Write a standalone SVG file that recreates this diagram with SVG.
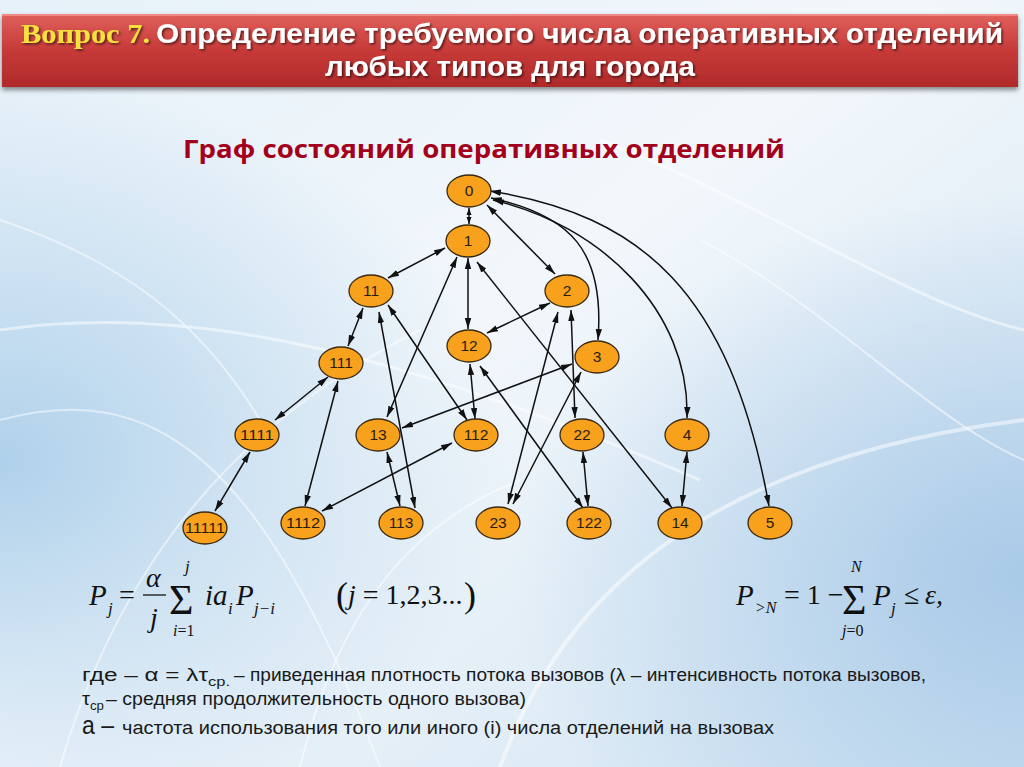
<svg xmlns="http://www.w3.org/2000/svg" width="1024" height="767" viewBox="0 0 1024 767">
<defs>
<linearGradient id="bg" x1="0" y1="0" x2="1" y2="1">
<stop offset="0" stop-color="#e6f1f9"/>
<stop offset="0.45" stop-color="#f2f7fb"/>
<stop offset="1" stop-color="#cfe3f2"/>
</linearGradient>
<radialGradient id="lb" cx="0" cy="0.6" r="0.5">
<stop offset="0" stop-color="#a9cde9" stop-opacity="0.9"/>
<stop offset="1" stop-color="#a9cde9" stop-opacity="0"/>
</radialGradient>
<radialGradient id="rb" cx="1" cy="0.75" r="0.5">
<stop offset="0" stop-color="#a3c6e6" stop-opacity="0.9"/>
<stop offset="1" stop-color="#a3c6e6" stop-opacity="0"/>
</radialGradient>
<linearGradient id="bar" x1="0" y1="0" x2="0" y2="1">
<stop offset="0" stop-color="#e0605c"/>
<stop offset="0.5" stop-color="#c63a38"/>
<stop offset="1" stop-color="#b02a2b"/>
</linearGradient>
<filter id="sh" x="-5%" y="-20%" width="110%" height="150%">
<feDropShadow dx="0" dy="3" stdDeviation="2.5" flood-color="#000" flood-opacity="0.45"/>
</filter>
<filter id="tsh" x="-5%" y="-30%" width="110%" height="160%">
<feDropShadow dx="1.5" dy="1.5" stdDeviation="1" flood-color="#000" flood-opacity="0.6"/>
</filter>
<marker id="a" viewBox="0 0 11 8" refX="11" refY="4" markerWidth="11" markerHeight="8" markerUnits="userSpaceOnUse" orient="auto-start-reverse">
<path d="M0,0.8 L11,4 L0,7.2 z" fill="#111"/>
</marker>
<marker id="s" viewBox="0 0 7 6" refX="7" refY="3" markerWidth="7" markerHeight="6" markerUnits="userSpaceOnUse" orient="auto-start-reverse">
<path d="M0,0.5 L7,3 L0,5.5 z" fill="#111"/>
</marker>
<style>
.e{stroke:#111;stroke-width:1.5;fill:none;marker-start:url(#a);marker-end:url(#a)}
.es{stroke:#111;stroke-width:1.5;fill:none;marker-start:url(#s);marker-end:url(#s)}
.n{fill:#f7a11c;stroke:#3b2a12;stroke-width:1.3}
.t{font-family:"Liberation Sans",Arial,sans-serif;font-size:15.5px;fill:#2b1d10;text-anchor:middle}
.m{font-family:"Liberation Serif","Times New Roman",serif;fill:#111}
.i{font-style:italic}
.b{font-family:"Liberation Sans",Arial,sans-serif;fill:#1a1a1a}
.st{stroke:#fff;stroke-opacity:0.5;fill:none}
</style>
</defs>

<g id="background">
<rect width="1024" height="767" fill="url(#bg)"/>
<rect width="1024" height="767" fill="url(#lb)"/>
<rect width="1024" height="767" fill="url(#rb)"/>
<path class="st" stroke-width="3" d="M0,330 C200,300 420,360 700,480"/>
<path class="st" stroke-width="2" d="M0,420 C150,380 260,450 380,767"/>
<path class="st" stroke-width="2" d="M60,767 C120,560 240,420 420,330"/>
<path class="st" stroke-width="4" d="M500,767 C560,600 700,460 1024,420"/>
<path class="st" stroke-width="2" d="M300,767 C340,600 420,520 520,480"/>
<path class="st" stroke-width="3" d="M600,140 C760,200 900,300 1024,330"/>
<path class="st" stroke-width="2" d="M700,240 C820,300 930,420 1024,460"/>
<path class="st" stroke-width="2" d="M0,220 C120,260 200,320 260,420"/>
</g>

<g id="title">
<rect x="2" y="14" width="1016" height="73" fill="url(#bar)" filter="url(#sh)"/>
<rect x="2" y="14" width="1016" height="2" fill="#f08a86"/>
<g filter="url(#tsh)">
<text x="21" y="43" font-family="Liberation Serif,'Times New Roman',serif" font-weight="bold" font-size="27" fill="#f7e23c" textLength="129" lengthAdjust="spacingAndGlyphs">Вопрос 7.</text>
<text x="156" y="43" font-family="'Liberation Sans',Arial,sans-serif" font-weight="bold" font-size="28" fill="#ffffff" textLength="847" lengthAdjust="spacingAndGlyphs">Определение требуемого числа оперативных отделений</text>
<text x="325" y="76" font-family="'Liberation Sans',Arial,sans-serif" font-weight="bold" font-size="28" fill="#ffffff" textLength="370" lengthAdjust="spacingAndGlyphs">любых типов для города</text>
</g>
</g>

<g id="subtitle">
<text x="183" y="158" font-family="'Open Sans','Liberation Sans',sans-serif" font-weight="bold" font-size="25" fill="#a3001c" textLength="602" lengthAdjust="spacingAndGlyphs">Граф состояний оперативных отделений</text>
</g>

<g id="connectors">
<line class="es" x1="469" y1="208" x2="469" y2="224"/>
<line class="e" x1="445" y1="248" x2="388" y2="278"/>
<line class="e" x1="487" y1="205" x2="555" y2="274"/>
<line class="e" x1="468" y1="258" x2="468" y2="329"/>
<line class="e" x1="457" y1="257" x2="387" y2="417"/>
<line class="e" x1="477" y1="262" x2="672" y2="508"/>
<line class="e" x1="550" y1="303" x2="487" y2="333"/>
<line class="e" x1="363" y1="308" x2="348" y2="346"/>
<line class="e" x1="379" y1="312" x2="415" y2="508"/>
<line class="e" x1="388" y1="305" x2="467" y2="420"/>
<line class="e" x1="558" y1="312" x2="508" y2="504"/>
<line class="e" x1="571" y1="310" x2="575" y2="418"/>
<line class="e" x1="572" y1="364" x2="402" y2="428"/>
<line class="e" x1="581" y1="372" x2="513" y2="504"/>
<line class="e" x1="470" y1="364" x2="475" y2="419"/>
<line class="e" x1="480" y1="366" x2="583" y2="508"/>
<line class="e" x1="328" y1="377" x2="275" y2="420"/>
<line class="e" x1="338" y1="381" x2="305" y2="506"/>
<line class="e" x1="250" y1="452" x2="215" y2="511"/>
<line class="e" x1="387" y1="452" x2="400" y2="506"/>
<line class="e" x1="452" y1="443" x2="322" y2="511"/>
<line class="e" x1="583" y1="452" x2="588" y2="506"/>
<line class="e" x1="687" y1="452" x2="682" y2="506"/>
<path class="e" d="M491,198 C570,215 605,250 598,340"/>
<path class="e" d="M493,200 C600,225 690,310 687,418"/>
<path class="e" d="M490,191 C640,215 730,290 769,506"/>
</g>

<g id="n0"><ellipse class="n" cx="469" cy="191" rx="22" ry="16"/><text class="t" x="469" y="196">0</text></g>
<g id="n1"><ellipse class="n" cx="468" cy="241" rx="22" ry="16"/><text class="t" x="468" y="246">1</text></g>
<g id="n11"><ellipse class="n" cx="371" cy="291" rx="22" ry="16"/><text class="t" x="371" y="296">11</text></g>
<g id="n2"><ellipse class="n" cx="567" cy="291" rx="22" ry="16"/><text class="t" x="567" y="296">2</text></g>
<g id="n12"><ellipse class="n" cx="469" cy="346" rx="22" ry="16"/><text class="t" x="469" y="351">12</text></g>
<g id="n3"><ellipse class="n" cx="597" cy="357" rx="22" ry="16"/><text class="t" x="597" y="362">3</text></g>
<g id="n111"><ellipse class="n" cx="341" cy="363" rx="22" ry="16"/><text class="t" x="341" y="368">111</text></g>
<g id="n1111"><ellipse class="n" cx="257" cy="435" rx="22" ry="16"/><text class="t" x="257" y="440" textLength="34" lengthAdjust="spacingAndGlyphs">1111</text></g>
<g id="n13"><ellipse class="n" cx="378" cy="435" rx="22" ry="16"/><text class="t" x="378" y="440">13</text></g>
<g id="n112"><ellipse class="n" cx="476" cy="435" rx="22" ry="16"/><text class="t" x="476" y="440">112</text></g>
<g id="n22"><ellipse class="n" cx="582" cy="435" rx="22" ry="16"/><text class="t" x="582" y="440">22</text></g>
<g id="n4"><ellipse class="n" cx="687" cy="435" rx="22" ry="16"/><text class="t" x="687" y="440">4</text></g>
<g id="n11111"><ellipse class="n" cx="205" cy="528" rx="22" ry="16"/><text class="t" x="205" y="533" textLength="40" lengthAdjust="spacingAndGlyphs">11111</text></g>
<g id="n1112"><ellipse class="n" cx="303" cy="523" rx="22" ry="16"/><text class="t" x="303" y="528" textLength="34" lengthAdjust="spacingAndGlyphs">1112</text></g>
<g id="n113"><ellipse class="n" cx="401" cy="523" rx="22" ry="16"/><text class="t" x="401" y="528">113</text></g>
<g id="n23"><ellipse class="n" cx="498" cy="523" rx="22" ry="16"/><text class="t" x="498" y="528">23</text></g>
<g id="n122"><ellipse class="n" cx="589" cy="523" rx="22" ry="16"/><text class="t" x="589" y="528">122</text></g>
<g id="n14"><ellipse class="n" cx="680" cy="523" rx="22" ry="16"/><text class="t" x="680" y="528">14</text></g>
<g id="n5"><ellipse class="n" cx="770" cy="523" rx="22" ry="16"/><text class="t" x="770" y="528">5</text></g>

<g id="formula1">
<text class="m i" x="89" y="605" font-size="29">P</text>
<text class="m i" x="108" y="614" font-size="17">j</text>
<text class="m" x="119" y="604" font-size="28">=</text>
<text class="m i" x="146" y="587" font-size="28">α</text>
<line x1="143" y1="595" x2="166" y2="595" stroke="#111" stroke-width="1.3"/>
<text class="m i" x="150" y="627" font-size="28">j</text>
<text class="m" x="169" y="614" font-size="42">Σ</text>
<text class="m i" x="185" y="572" font-size="17">j</text>
<text class="m" x="173" y="636" font-size="16"><tspan class="i">i</tspan>=1</text>
<text class="m i" x="205" y="605" font-size="29">ia</text>
<text class="m i" x="228" y="614" font-size="17">i</text>
<text class="m i" x="236" y="605" font-size="29">P</text>
<text class="m i" x="254" y="614" font-size="17">j−i</text>
</g>

<g id="formula2">
<text class="m" x="336" y="607" font-size="36">(</text>
<text class="m" x="348" y="604" font-size="28"><tspan class="i">j</tspan> = 1,2,3...</text>
<text class="m" x="464" y="607" font-size="36">)</text>
</g>

<g id="formula3">
<text class="m i" x="736" y="605" font-size="29">P</text>
<text class="m i" x="755" y="613" font-size="16">&gt;N</text>
<text class="m" x="784" y="604" font-size="28">= 1 −</text>
<text class="m" x="842" y="614" font-size="42">Σ</text>
<text class="m i" x="851" y="572" font-size="16">N</text>
<text class="m" x="842" y="636" font-size="16"><tspan class="i">j</tspan>=0</text>
<text class="m i" x="873" y="605" font-size="29">P</text>
<text class="m i" x="891" y="614" font-size="17">j</text>
<text class="m" x="904" y="604" font-size="28">≤</text>
<text class="m i" x="925" y="604" font-size="28">ε,</text>
</g>

<g id="notes">
<text class="b" x="82" y="681" font-size="18" textLength="126" lengthAdjust="spacingAndGlyphs">где – α = λτ</text>
<text class="b" x="208" y="686" font-size="12" textLength="22" lengthAdjust="spacingAndGlyphs">ср.</text>
<text class="b" x="234" y="681" font-size="18" textLength="692" lengthAdjust="spacingAndGlyphs">– приведенная плотность потока вызовов (λ – интенсивность потока вызовов,</text>
<text class="b" x="82" y="705" font-size="18" textLength="8" lengthAdjust="spacingAndGlyphs">τ</text>
<text class="b" x="90" y="710" font-size="12" textLength="14" lengthAdjust="spacingAndGlyphs">ср</text>
<text class="b" x="106" y="705" font-size="18" textLength="420" lengthAdjust="spacingAndGlyphs">– средняя продолжительность одного вызова)</text>
<text class="b" x="82" y="734" font-size="25" textLength="32" lengthAdjust="spacingAndGlyphs">а –</text>
<text class="b" x="122" y="734" font-size="18" textLength="652" lengthAdjust="spacingAndGlyphs">частота использования того или иного (i) числа отделений на вызовах</text>
</g>
</svg>
